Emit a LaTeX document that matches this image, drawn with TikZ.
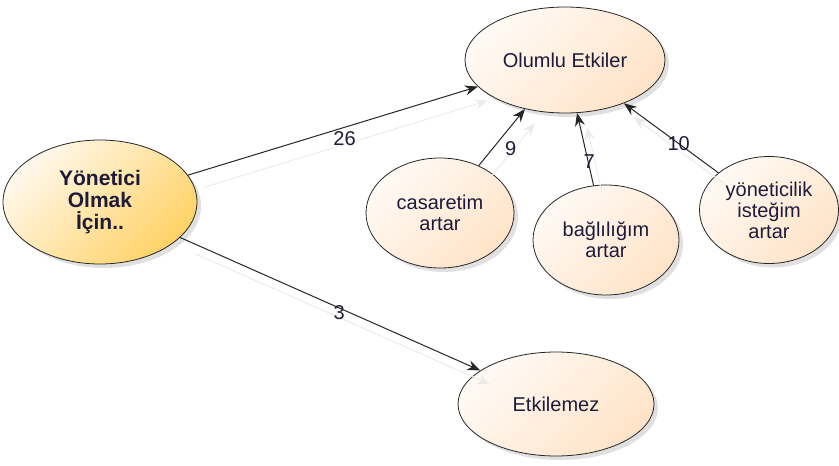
\documentclass[tikz,border=0pt]{standalone}
\usepackage{fontspec}
\setmainfont{Liberation Sans}
\usetikzlibrary{shapes.geometric,arrows.meta,shadows}
\definecolor{txt}{HTML}{1E1B3A}
\definecolor{mainA}{HTML}{FFF8EC}
\definecolor{mainB}{HTML}{FFD266}
\definecolor{softA}{HTML}{FFFAF5}
\definecolor{softB}{HTML}{FFE3C8}
\tikzset{
  bubble/.style={ellipse, draw=black!85, line width=0.8pt, inner sep=0pt,
    align=center, text=txt, font=\fontsize{20}{21}\selectfont,
    shading=axis, left color=softA, right color=softB, shading angle=45,
    drop shadow={shadow xshift=4pt, shadow yshift=-4pt, fill=black, opacity=0.12}},
  mainbubble/.style={bubble, left color=mainA, right color=mainB, shading angle=45,
    font=\bfseries\fontsize{21}{22}\selectfont},
  link/.style={line width=1pt, black!85, -{Stealth[length=13pt,width=10pt]}},
  linkshade/.style={line width=1pt, black!8, -{Stealth[length=13pt,width=10pt]},
    transform canvas={shift={(10,14)}}, shorten <=6pt},
  count/.style={font=\fontsize{20}{21}\selectfont, text=txt, inner sep=2pt}
}
\begin{document}
\begin{tikzpicture}[x=1pt,y=-1pt]
  \useasboundingbox (0,0) rectangle (839,466);

  \node[mainbubble, minimum width=194, minimum height=124] (yon) at (100,202)
    {Yönetici\\Olmak\\İçin..};
  \node[bubble, minimum width=200, minimum height=106] (olumlu) at (565,60)
    {Olumlu Etkiler};
  \node[bubble, minimum width=148, minimum height=110] (cas) at (440,213)
    {casaretim\\artar};
  \node[bubble, minimum width=146, minimum height=110] (bag) at (606,240)
    {bağlılığım\\artar};
  \node[bubble, minimum width=139, minimum height=107] (ist) at (769,210)
    {yöneticilik\\isteğim\\artar};
  \node[bubble, minimum width=196, minimum height=104] (etk) at (556,404)
    {Etkilemez};

  % faint shadow copies of the connectors
  \draw[linkshade] (yon) -- (olumlu);
  \draw[linkshade] (yon) -- (etk);
  \draw[linkshade] (cas) -- (olumlu);
  \draw[linkshade] (bag) -- (olumlu);
  \draw[linkshade] (ist) -- (olumlu);

  % connectors with their counts
  \draw[link] (yon) -- node[count, pos=0.54, below=2pt] (n26) {26} (olumlu);
  \draw[link] (yon) -- node[count, pos=0.53, below=-5pt] (n3) {3} (etk);
  \draw[link] (cas) -- node[count, pos=0.3, right=10pt] (n9) {9} (olumlu);
  \draw[link] (bag) -- node[count, pos=0.33, right=-7pt] (n7) {7} (olumlu);
  \draw[link] (ist) -- node[count, pos=0.42] (n10) {10} (olumlu);
\end{tikzpicture}
\end{document}
